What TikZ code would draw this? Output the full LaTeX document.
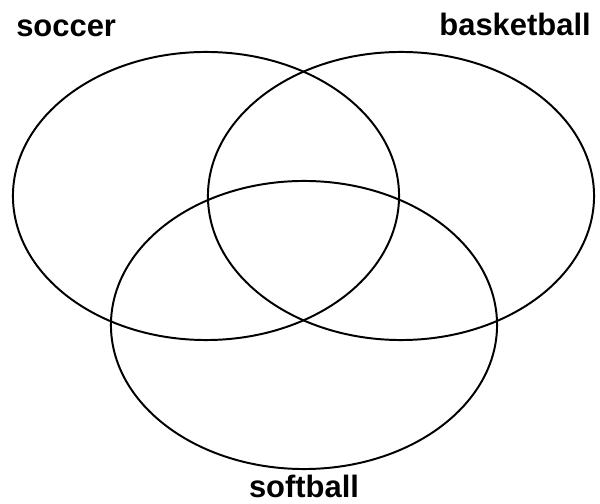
\documentclass[tikz,border=0pt]{standalone}
\usepackage{fontspec}
\setmainfont{Liberation Sans}

\tikzset{
  setline/.style={draw=black, line width=1.4pt},
  setlabel/.style={inner sep=0pt, font=\fontsize{22}{26}\selectfont\bfseries}
}

\begin{document}
\begin{tikzpicture}[x=0.025cm, y=-0.025cm]
\useasboundingbox (0,0) rectangle (600,504);

% centres of the three sets
\coordinate (cs) at (206,196);
\coordinate (cb) at (401,196);
\coordinate (cf) at (304,325);

% sets
\draw[setline] (cs) ellipse [x radius=4.825cm, y radius=3.6cm];
\draw[setline] (cb) ellipse [x radius=4.825cm, y radius=3.6cm];
\draw[setline] (cf) ellipse [x radius=4.825cm, y radius=3.6cm];

% labels
\node[setlabel, anchor=base west] (soccer) at (16,37) {soccer};
\node[setlabel, anchor=base east] (basketball) at (591,36) {basketball};
\node[setlabel, anchor=base] (softball) at (304,498) {softball};
\end{tikzpicture}
\end{document}
